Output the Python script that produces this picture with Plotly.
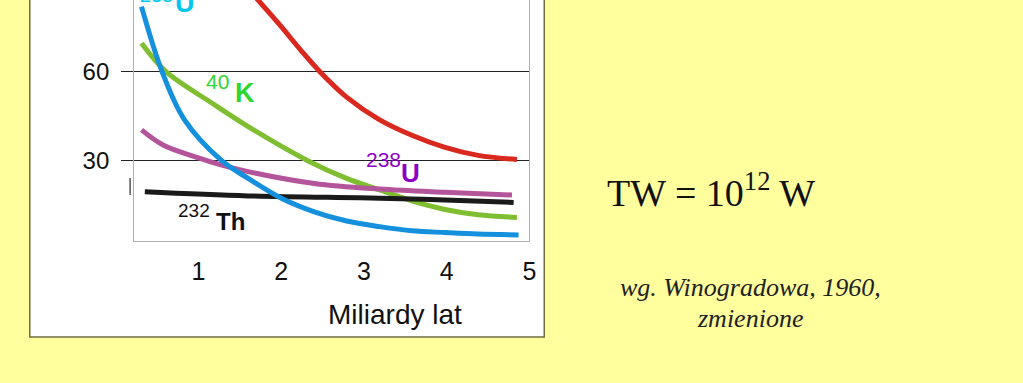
import plotly.graph_objects as go

W, H = 1023, 383

# ---- data ----
x_u235 = [0.31, 0.56, 0.83, 1.28, 1.60, 2.00, 2.40, 2.79, 3.19, 3.58, 3.98, 4.38, 4.87]
y_u235 = [82.1, 60.0, 43.8, 30.0, 24.0, 17.3, 12.7, 9.6, 7.7, 6.3, 5.7, 5.2, 4.9]

x_k40 = [0.31, 0.61, 1.16, 1.60, 2.32, 2.79, 3.19, 3.58, 3.98, 4.38, 4.85]
y_k40 = [69.7, 60.0, 49.5, 41.5, 30.0, 24.0, 20.1, 16.4, 13.5, 11.7, 10.8]

x_u238 = [0.31, 0.57, 0.97, 1.28, 1.60, 2.40, 3.19, 3.98, 4.79]
y_u238 = [40.4, 35.3, 31.2, 28.5, 26.3, 22.3, 20.4, 19.3, 18.4]

x_th232 = [0.35, 1.60, 3.19, 3.98, 4.81]
y_th232 = [19.5, 18.1, 17.3, 16.7, 15.9]

x_red = [1.45, 1.72, 2.00, 2.235, 2.47, 2.79, 3.18, 3.58, 3.98, 4.38, 4.85]
y_red = [93.0, 84.3, 75.3, 67.4, 60.0, 51.5, 44.0, 38.6, 34.5, 31.8, 30.4]

x_ticks = [1, 2, 3, 4, 5]
y_ticks = [30, 60]

# ---- styling ----
YELLOW = "#FFFF9E"
SANS = "Liberation Sans, Arial, sans-serif"
SERIF = "Liberation Serif, Times New Roman, serif"


def px(x):
    return x / W


def py(y):
    return 1 - y / H


fig = go.Figure()

series = [
    (x_red, y_red, "#D9281E"),
    (x_k40, y_k40, "#7EBE30"),
    (x_u238, y_u238, "#B4559B"),
    (x_th232, y_th232, "#1A1A1A"),
    (x_u235, y_u235, "#1590DC"),
]
for xs, ys, col in series:
    fig.add_trace(go.Scatter(
        x=xs, y=ys, mode="lines",
        line=dict(color=col, width=5, shape="spline", smoothing=1.0),
        showlegend=False, hoverinfo="skip",
    ))

fig.update_layout(
    width=W, height=H,
    margin=dict(l=0, r=0, t=0, b=0),
    paper_bgcolor=YELLOW,
    plot_bgcolor="white",
    showlegend=False,
    xaxis=dict(
        domain=[px(135), px(533)],
        range=[0.22, 5.0],
        tickvals=x_ticks,
        ticktext=[str(v) for v in x_ticks],
        ticks="",
        showgrid=False, zeroline=False,
        showline=True, linecolor="#B0B0B0", linewidth=1,
        tickfont=dict(family=SANS, size=25, color="#111"),
        ticklabelstandoff=8,
    ),
    yaxis=dict(
        domain=[py(241), 1],
        range=[2.84, 84.34],
        tickvals=y_ticks,
        ticktext=[str(v) for v in y_ticks],
        ticks="outside", ticklen=12, tickcolor="#222", tickwidth=1,
        showgrid=True, gridcolor="#222", gridwidth=1,
        zeroline=False,
        showline=True, linecolor="#B0B0B0", linewidth=1, mirror=True,
        tickfont=dict(family=SANS, size=24, color="#111"),
        ticklabelstandoff=7,
    ),
)

# white panel with olive border
fig.add_shape(type="rect", xref="paper", yref="paper",
              x0=px(30), x1=px(548), y0=py(337), y1=1.1,
              fillcolor="white", line=dict(color="#6E6E40", width=1.5),
              layer="below")
# small dark mark left of axis
fig.add_shape(type="line", xref="paper", yref="paper",
              x0=px(131), x1=px(131), y0=py(178), y1=py(195),
              line=dict(color="#555", width=1.5))

ann = []


def add_text(text, x, y, size, color, family=SANS, bold=False, italic=False, xanchor="center"):
    t = text
    if bold:
        t = "<b>" + t + "</b>"
    if italic:
        t = "<i>" + t + "</i>"
    ann.append(dict(text=t, x=px(x), y=py(y), xref="paper", yref="paper",
                    xanchor=xanchor, yanchor="middle", showarrow=False,
                    font=dict(family=family, size=size, color=color)))


# curve labels
add_text("235", 158, -5, 20, "#00C8EC")
add_text("U", 186, 3, 27, "#00C8EC", bold=True)
add_text("40", 219, 82, 21, "#2FD62F")
add_text("K", 247, 93, 27, "#2FD62F", bold=True)
add_text("238", 386, 159, 21, "#8C00C8")
add_text("U", 413, 173, 26, "#8C00C8", bold=True)
add_text("232", 195, 210, 19, "#111")
add_text("Th", 232, 221, 24, "#111", bold=True)

# axis title
add_text("Miliardy lat", 398, 314, 28, "#111")

# right-hand text
ann.append(dict(text="TW = 10<sup>12</sup> W", x=px(716), y=py(190), xref="paper", yref="paper",
                xanchor="center", yanchor="middle", showarrow=False,
                font=dict(family=SERIF, size=38, color="#111")))
add_text("wg. Winogradowa, 1960,", 756, 287, 26, "#222", family=SERIF, italic=True)
add_text("zmienione", 755, 318, 26, "#222", family=SERIF, italic=True)

fig.update_layout(annotations=ann)

fig.write_html("out.html",
               config={"displayModeBar": False},
               post_script="document.body.style.margin='0';document.body.style.overflow='hidden';")
